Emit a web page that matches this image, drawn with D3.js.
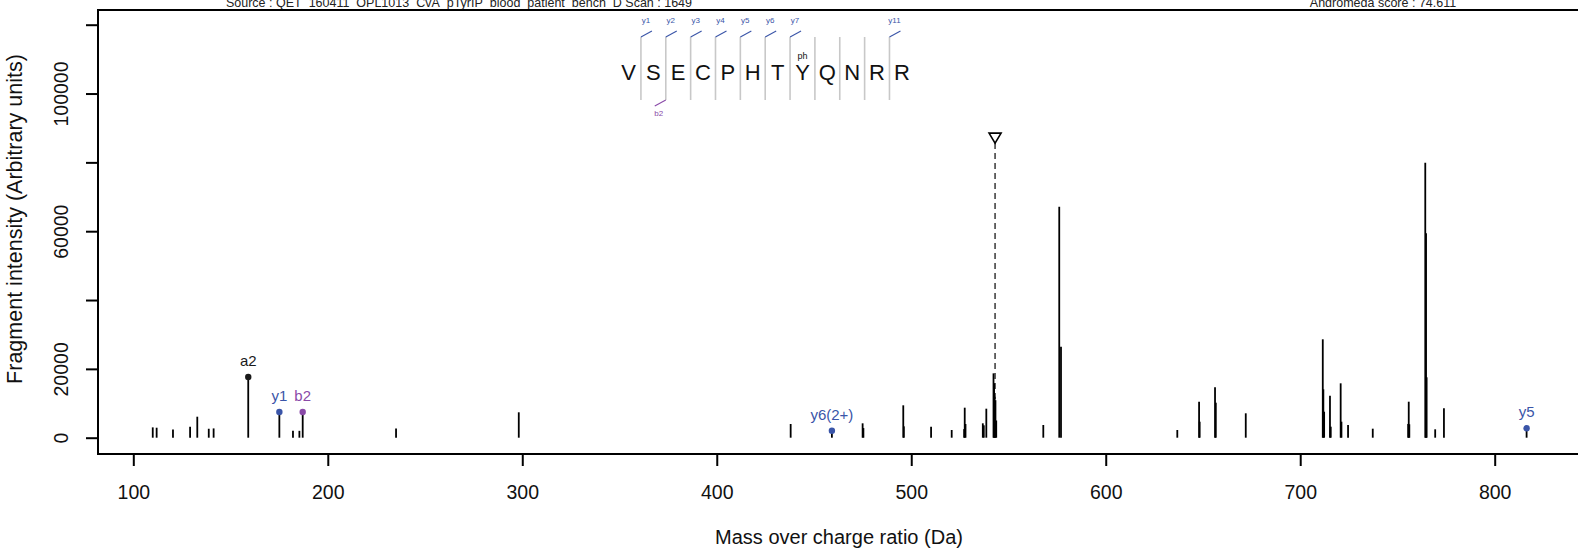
<!DOCTYPE html>
<html>
<head>
<meta charset="utf-8">
<script src="https://cdn.jsdelivr.net/npm/d3@7"></script>
<style>
  html, body { margin: 0; padding: 0; background: #fff; }
  svg { display: block; font-family: "Liberation Sans", Arial, sans-serif; }
</style>
</head>
<body>
<script>
// ---------- data ----------
const headerLeft = "Source : QET_160411_OPL1013_CvA_pTyrIP_blood_patient_bench_D   Scan : 1649";
const headerRight = "Andromeda score : 74.611";
const xTitle = "Mass over charge ratio (Da)";
const yTitle = "Fragment intensity (Arbitrary units)";

const xTicks = [100, 200, 300, 400, 500, 600, 700, 800];
const yTicks = [0, 20000, 40000, 60000, 80000, 100000, 120000];
const yTickLabels = [0, 20000, 60000, 100000];

// unannotated peaks (m/z, intensity)
const peakMz = [110.0, 112.0, 120.4, 129.2, 132.9, 138.8, 141.3, 182.1, 185.4, 235.1, 298.2,
  438.0, 475.0, 475.4, 495.9, 496.2, 510.2, 520.8, 527.2, 527.5, 527.9, 536.8, 537.3, 538.6,
  542.3, 542.6, 542.9, 543.3, 543.7, 567.9, 576.1, 577.0,
  636.8, 648.0, 648.3, 656.2, 656.6, 672.0, 711.6, 711.9, 712.3, 715.3, 715.7, 720.8, 721.2,
  724.6, 737.3, 755.5, 755.8, 756.1, 764.3, 764.7, 765.0, 769.4, 773.9];
const peakInt = [3000, 2900, 2400, 3200, 6100, 2600, 2700, 2000, 2000, 2700, 7380,
  3980, 4180, 2800, 9410, 3300, 3200, 2240, 2500, 8720, 3980, 4180, 3600, 8430,
  18700, 15800, 11900, 10900, 5000, 3690, 67100, 26400,
  2240, 10460, 4650, 14640, 10170, 7090, 28590, 14060, 7550, 12200, 3200, 15800, 4650,
  3690, 2620, 4000, 10460, 3900, 79900, 59390, 17550, 2440, 8540];

// annotated fragment peaks
const annMz = [159.1, 175.1, 187.1, 459.2, 816.4];
const annInt = [17640, 7470, 7470, 2030, 2730];
const annLabel = ["a2", "y1", "b2", "y6(2+)", "y5"];
const annType = ["a", "y", "b", "y", "y"];

// precursor
const precursorMz = 543.1;
const precursorMark = 85600;

// peptide sequence
const residues = ["V", "S", "E", "C", "P", "H", "T", "Y", "Q", "N", "R", "R"];
const modResidue = 7;
const modLabel = "ph";
const yIons = [1, 2, 3, 4, 5, 6, 7, 11];
const bIons = [2];

// ---------- styles ----------
const colors = { a: "#1a1a1a", y: "#3a55a8", b: "#8a4aa8" };

const W = 1578, H = 550;
const svg = d3.select("body").append("svg").attr("width", W).attr("height", H);

const x = d3.scaleLinear().domain([100, 800]).range([133.3, 1494.7]);
const y = d3.scaleLinear().domain([0, 120000]).range([437.7, 24.7]);

const boxL = 98, boxT = 10, boxB = 454;

// header texts
svg.append("text").attr("x", 459).attr("y", 7).attr("text-anchor", "middle")
  .attr("font-size", 12.5).attr("fill", "#222").text(headerLeft);
svg.append("text").attr("x", 1383).attr("y", 7).attr("text-anchor", "middle")
  .attr("font-size", 12.5).attr("fill", "#222").text(headerRight);

// plot box
svg.append("rect").attr("x", boxL).attr("y", boxT).attr("width", 1600).attr("height", boxB - boxT)
  .attr("fill", "none").attr("stroke", "#000").attr("stroke-width", 2);

// y axis
const yAxis = svg.append("g").attr("transform", `translate(${boxL},0)`)
  .call(d3.axisLeft(y).tickValues(yTicks).tickSize(12)
    .tickFormat(d => yTickLabels.includes(d) ? String(d) : ""));
yAxis.select(".domain").remove();
yAxis.selectAll(".tick line").attr("stroke-width", 2);
yAxis.selectAll(".tick text")
  .attr("x", null).attr("dy", null)
  .attr("transform", "translate(-30,0) rotate(-90)")
  .attr("text-anchor", "middle")
  .attr("font-size", 19.5).attr("font-family", "Liberation Sans, Arial, sans-serif").attr("fill", "#111");

// x axis
const xAxis = svg.append("g").attr("transform", `translate(0,${boxB})`)
  .call(d3.axisBottom(x).tickValues(xTicks).tickSize(12).tickPadding(19).tickFormat(d3.format("d")));
xAxis.select(".domain").remove();
xAxis.selectAll(".tick line").attr("stroke-width", 2);
xAxis.selectAll(".tick text").attr("font-size", 19.5)
  .attr("font-family", "Liberation Sans, Arial, sans-serif").attr("fill", "#111");

// axis titles
svg.append("text").attr("x", 839).attr("y", 544).attr("text-anchor", "middle")
  .attr("font-size", 20).attr("fill", "#111").text(xTitle);
svg.append("text").attr("transform", "translate(22,219) rotate(-90)").attr("text-anchor", "middle")
  .attr("font-size", 21.5).attr("fill", "#111").text(yTitle);

// precursor
svg.append("line")
  .attr("x1", x(precursorMz)).attr("x2", x(precursorMz))
  .attr("y1", y(precursorMark)).attr("y2", y(0))
  .attr("stroke", "#444").attr("stroke-width", 1.6).attr("stroke-dasharray", "6,4");
{
  const px = x(precursorMz), py = y(precursorMark);
  svg.append("path")
    .attr("d", `M${px - 6},${py - 10}L${px + 6},${py - 10}L${px},${py}Z`)
    .attr("fill", "#fff").attr("stroke", "#000").attr("stroke-width", 1.6);
}

// peaks
const peaks = peakMz.map((m, i) => ({ m, v: peakInt[i] }));
svg.append("g").selectAll("line").data(peaks).join("line")
  .attr("x1", d => x(d.m)).attr("x2", d => x(d.m))
  .attr("y1", y(0)).attr("y2", d => y(d.v))
  .attr("stroke", "#000").attr("stroke-width", 1.8);

// annotated peaks
const ann = annMz.map((m, i) => ({ m, v: annInt[i], label: annLabel[i], type: annType[i] }));
const ag = svg.append("g");
ag.selectAll("line").data(ann).join("line")
  .attr("x1", d => x(d.m)).attr("x2", d => x(d.m))
  .attr("y1", y(0)).attr("y2", d => y(d.v))
  .attr("stroke", "#000").attr("stroke-width", 1.8);
ag.selectAll("circle").data(ann).join("circle")
  .attr("cx", d => x(d.m)).attr("cy", d => y(d.v)).attr("r", 3.2)
  .attr("fill", d => colors[d.type]);
ag.selectAll("text").data(ann).join("text")
  .attr("x", d => x(d.m)).attr("y", d => y(d.v) - 11)
  .attr("text-anchor", "middle").attr("font-size", 15)
  .attr("fill", d => colors[d.type]).text(d => d.label);

// sequence annotation
const sx = d3.scaleLinear().domain([0, residues.length - 1]).range([628.5, 901.9]);
const seqTop = 37, seqBot = 100;
const sg = svg.append("g");
sg.selectAll("text.res").data(residues).join("text").attr("class", "res")
  .attr("x", (d, i) => sx(i)).attr("y", 80)
  .attr("text-anchor", "middle").attr("font-size", 22).attr("fill", "#111")
  .text(d => d);
sg.append("text").attr("x", sx(modResidue)).attr("y", 59).attr("text-anchor", "middle")
  .attr("font-size", 9).attr("fill", "#111").text(modLabel);
const seps = d3.range(residues.length - 1);
sg.selectAll("line.sep").data(seps).join("line").attr("class", "sep")
  .attr("x1", j => sx(j + 0.5)).attr("x2", j => sx(j + 0.5))
  .attr("y1", seqTop).attr("y2", seqBot)
  .attr("stroke", "#c8c8c8").attr("stroke-width", 1.6);
// y ions (top hooks)
sg.selectAll("line.yh").data(yIons).join("line").attr("class", "yh")
  .attr("x1", k => sx(k - 0.5)).attr("y1", seqTop)
  .attr("x2", k => sx(k - 0.5) + 11).attr("y2", seqTop - 6)
  .attr("stroke", colors.y).attr("stroke-width", 1.1);
sg.selectAll("text.yl").data(yIons).join("text").attr("class", "yl")
  .attr("x", k => sx(k - 0.5) + 5).attr("y", 23)
  .attr("text-anchor", "middle").attr("font-size", 8).attr("fill", colors.y)
  .text(k => "y" + k);
// b ions (bottom hooks)
sg.selectAll("line.bh").data(bIons).join("line").attr("class", "bh")
  .attr("x1", k => sx(k - 0.5)).attr("y1", seqBot)
  .attr("x2", k => sx(k - 0.5) - 11).attr("y2", seqBot + 6)
  .attr("stroke", colors.b).attr("stroke-width", 1.1);
sg.selectAll("text.bl").data(bIons).join("text").attr("class", "bl")
  .attr("x", k => sx(k - 0.5) - 7).attr("y", 116)
  .attr("text-anchor", "middle").attr("font-size", 8).attr("fill", colors.b)
  .text(k => "b" + k);
</script>
</body>
</html>
